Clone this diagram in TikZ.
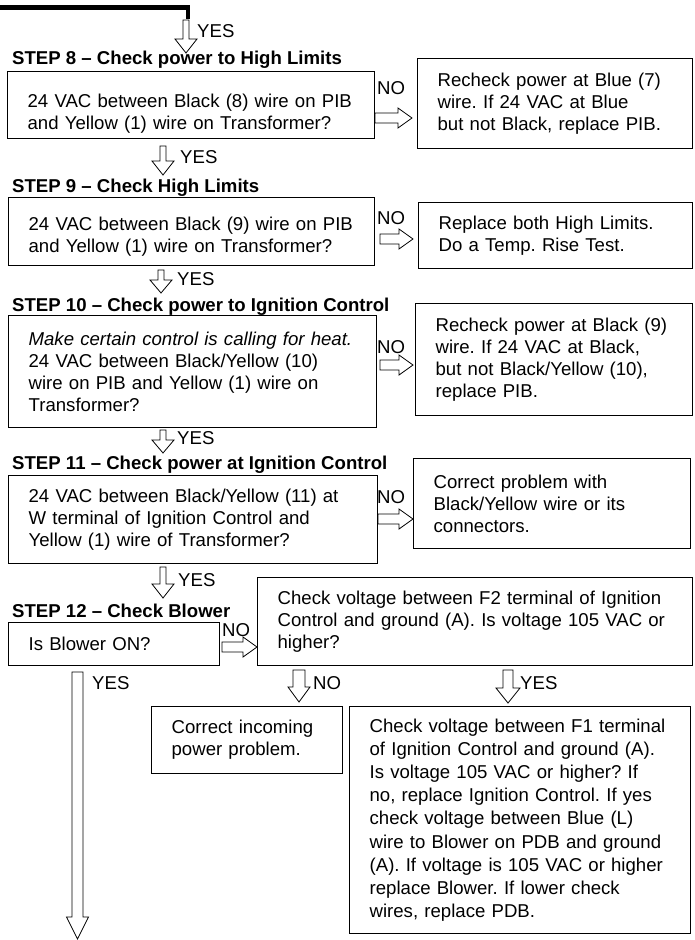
\documentclass[tikz,border=0pt]{standalone}
\usepackage{fontspec}
\setmainfont{Liberation Sans}
\usetikzlibrary{calc}
\frenchspacing

\newcommand{\hollowarrow}[5]{%
  \draw[blockarrow] let \p1=(#1), \p2=(#2), \n1={atan2(\y2-\y1,\x2-\x1)}, \n2={veclen(\x2-\x1,\y2-\y1)} in
    {[shift={(\p1)}, rotate=\n1]
    (0pt,#3pt) -- ({\n2-#5pt},#3pt) -- ({\n2-#5pt},#4pt) -- (\n2,0pt) -- ({\n2-#5pt},-#4pt) -- ({\n2-#5pt},-#3pt) -- (0pt,-#3pt) -- cycle};
}

\begin{document}
\begin{tikzpicture}[x=1pt, y=-1pt,
  every node/.style={font=\fontsize{18.6}{22}\selectfont\frenchspacing},
  box/.style={draw, line width=1.3pt, anchor=north west, inner xsep=20pt, inner ysep=0pt, align=left},
  stephead/.style={anchor=base west, inner sep=0pt, font=\fontsize{18.6}{22}\selectfont\bfseries},
  lbl/.style={anchor=west, inner sep=0pt},
  blockarrow/.style={draw, line width=0.8pt, fill=white, line join=miter}]
\useasboundingbox (0,0) rectangle (694,940);

\coordinate (topstart) at (-5,7.5);
\coordinate (topend) at (188,19);
\draw[line width=4.5pt] (topstart) -| (topend);

\node[stephead] (h8) at (12,64) {STEP 8 – Check power to High Limits};
\node[box, minimum width=367pt, text width=327pt, minimum height=67pt] (b8) at (7,71) {\rule{0pt}{30pt}24 VAC between Black (8) wire on PIB\\and Yellow (1) wire on Transformer?};
\node[box, minimum width=275pt, text width=235pt, minimum height=90pt] (r8) at (417,58) {Recheck power at Blue (7)\\wire. If 24 VAC at Blue\\but not Black, replace PIB.};

\node[stephead] (h9) at (12,192) {STEP 9 – Check High Limits};
\node[box, minimum width=366pt, text width=326pt, minimum height=68pt] (b9) at (8,197) {\rule{0pt}{24pt}24 VAC between Black (9) wire on PIB\\and Yellow (1) wire on Transformer?};
\node[box, minimum width=274pt, text width=234pt, minimum height=66pt] (r9) at (418,202) {Replace both High Limits.\\Do a Temp. Rise Test.};

\node[stephead] (h10) at (12,311) {STEP 10 – Check power to Ignition Control};
\node[box, minimum width=368pt, text width=328pt, minimum height=112pt] (b10) at (8,315) {\textit{Make certain control is calling for heat.}\\24 VAC between Black/Yellow (10)\\wire on PIB and Yellow (1) wire on\\Transformer?};
\node[box, minimum width=277pt, text width=237pt, minimum height=112pt] (r10) at (415,303) {Recheck power at Black (9)\\wire. If 24 VAC at Black,\\but not Black/Yellow (10),\\replace PIB.};

\node[stephead] (h11) at (12,469) {STEP 11 – Check power at Ignition Control};
\node[box, minimum width=369pt, text width=329pt, minimum height=88pt] (b11) at (8,475) {24 VAC between Black/Yellow (11) at\\W terminal of Ignition Control and\\Yellow (1) wire of Transformer?};
\node[box, minimum width=277pt, text width=237pt, minimum height=90pt] (r11) at (413,458) {Correct problem with\\Black/Yellow wire or its\\connectors.};

\node[stephead] (h12) at (12,617) {STEP 12 – Check Blower};
\node[box, minimum width=211pt, text width=171pt, minimum height=43pt] (b12) at (8,622) {Is Blower ON?};
\node[box, minimum width=435pt, text width=395pt, minimum height=88pt] (f2) at (257,577) {Check voltage between F2 terminal of Ignition\\Control and ground (A). Is voltage 105 VAC or\\higher?};
\node[box, minimum width=191pt, text width=151pt, minimum height=67pt] (ci) at (151,706) {Correct incoming\\power problem.};
\node[box, minimum width=341pt, text width=301pt, minimum height=227pt, font=\fontsize{18.6}{23.2}\selectfont\frenchspacing] (f1) at (349,706) {Check voltage between F1 terminal\\of Ignition Control and ground (A).\\Is voltage 105 VAC or higher? If\\no, replace Ignition Control. If yes\\check voltage between Blue (L)\\wire to Blower on PDB and ground\\(A). If voltage is 105 VAC or higher\\replace Blower. If lower check\\wires, replace PDB.};

\coordinate (y8a) at (186,20); \coordinate (y8b) at (186,53);
\coordinate (y9a) at (163,146); \coordinate (y9b) at (163,175);
\coordinate (y10a) at (161,270); \coordinate (y10b) at (161,293);
\coordinate (y11a) at (163,430); \coordinate (y11b) at (163,453);
\coordinate (y12a) at (163,567); \coordinate (y12b) at (163,598);
\coordinate (yba) at (77.5,672); \coordinate (ybb) at (77.5,939);
\coordinate (nda) at (299,670); \coordinate (ndb) at (299,702);
\coordinate (yda) at (508,670); \coordinate (ydb) at (508,703);
\hollowarrow{y8a}{y8b}{3}{11}{14}
\hollowarrow{y9a}{y9b}{3}{11}{14}
\hollowarrow{y10a}{y10b}{3}{11}{13}
\hollowarrow{y11a}{y11b}{3}{11}{13}
\hollowarrow{y12a}{y12b}{3}{11}{14}
\hollowarrow{yba}{ybb}{5.5}{11}{22}
\hollowarrow{nda}{ndb}{6}{11}{15}
\hollowarrow{yda}{ydb}{5}{12}{15}
\node[lbl] (yes8) at (197,31) {YES};
\node[lbl] (yes9) at (180,157) {YES};
\node[lbl] (yes10) at (177,279) {YES};
\node[lbl] (yes11) at (177,438) {YES};
\node[lbl] (yes12) at (178,580) {YES};
\node[lbl] (yesb) at (92,683) {YES};
\node[lbl] (nod) at (313,683) {NO};
\node[lbl] (yesd) at (520,683) {YES};

\coordinate (n8a) at (375,118); \coordinate (n8b) at (412,118);
\coordinate (n9a) at (380,239); \coordinate (n9b) at (413,239);
\coordinate (n10a) at (380,365); \coordinate (n10b) at (413,365);
\coordinate (n11a) at (378,519); \coordinate (n11b) at (413,519);
\coordinate (n12a) at (222,647); \coordinate (n12b) at (257,647);
\hollowarrow{n8a}{n8b}{5}{10}{14}
\hollowarrow{n9a}{n9b}{5}{10}{14}
\hollowarrow{n10a}{n10b}{5}{10}{14}
\hollowarrow{n11a}{n11b}{5}{10}{14}
\hollowarrow{n12a}{n12b}{5}{10}{14}
\node[lbl] (no8) at (377,88.5) {NO};
\node[lbl] (no9) at (377,218.5) {NO};
\node[lbl] (no10) at (377,347.5) {NO};
\node[lbl] (no11) at (377,497.5) {NO};
\node[lbl] (no12) at (222,630) {NO};
\end{tikzpicture}
\end{document}
